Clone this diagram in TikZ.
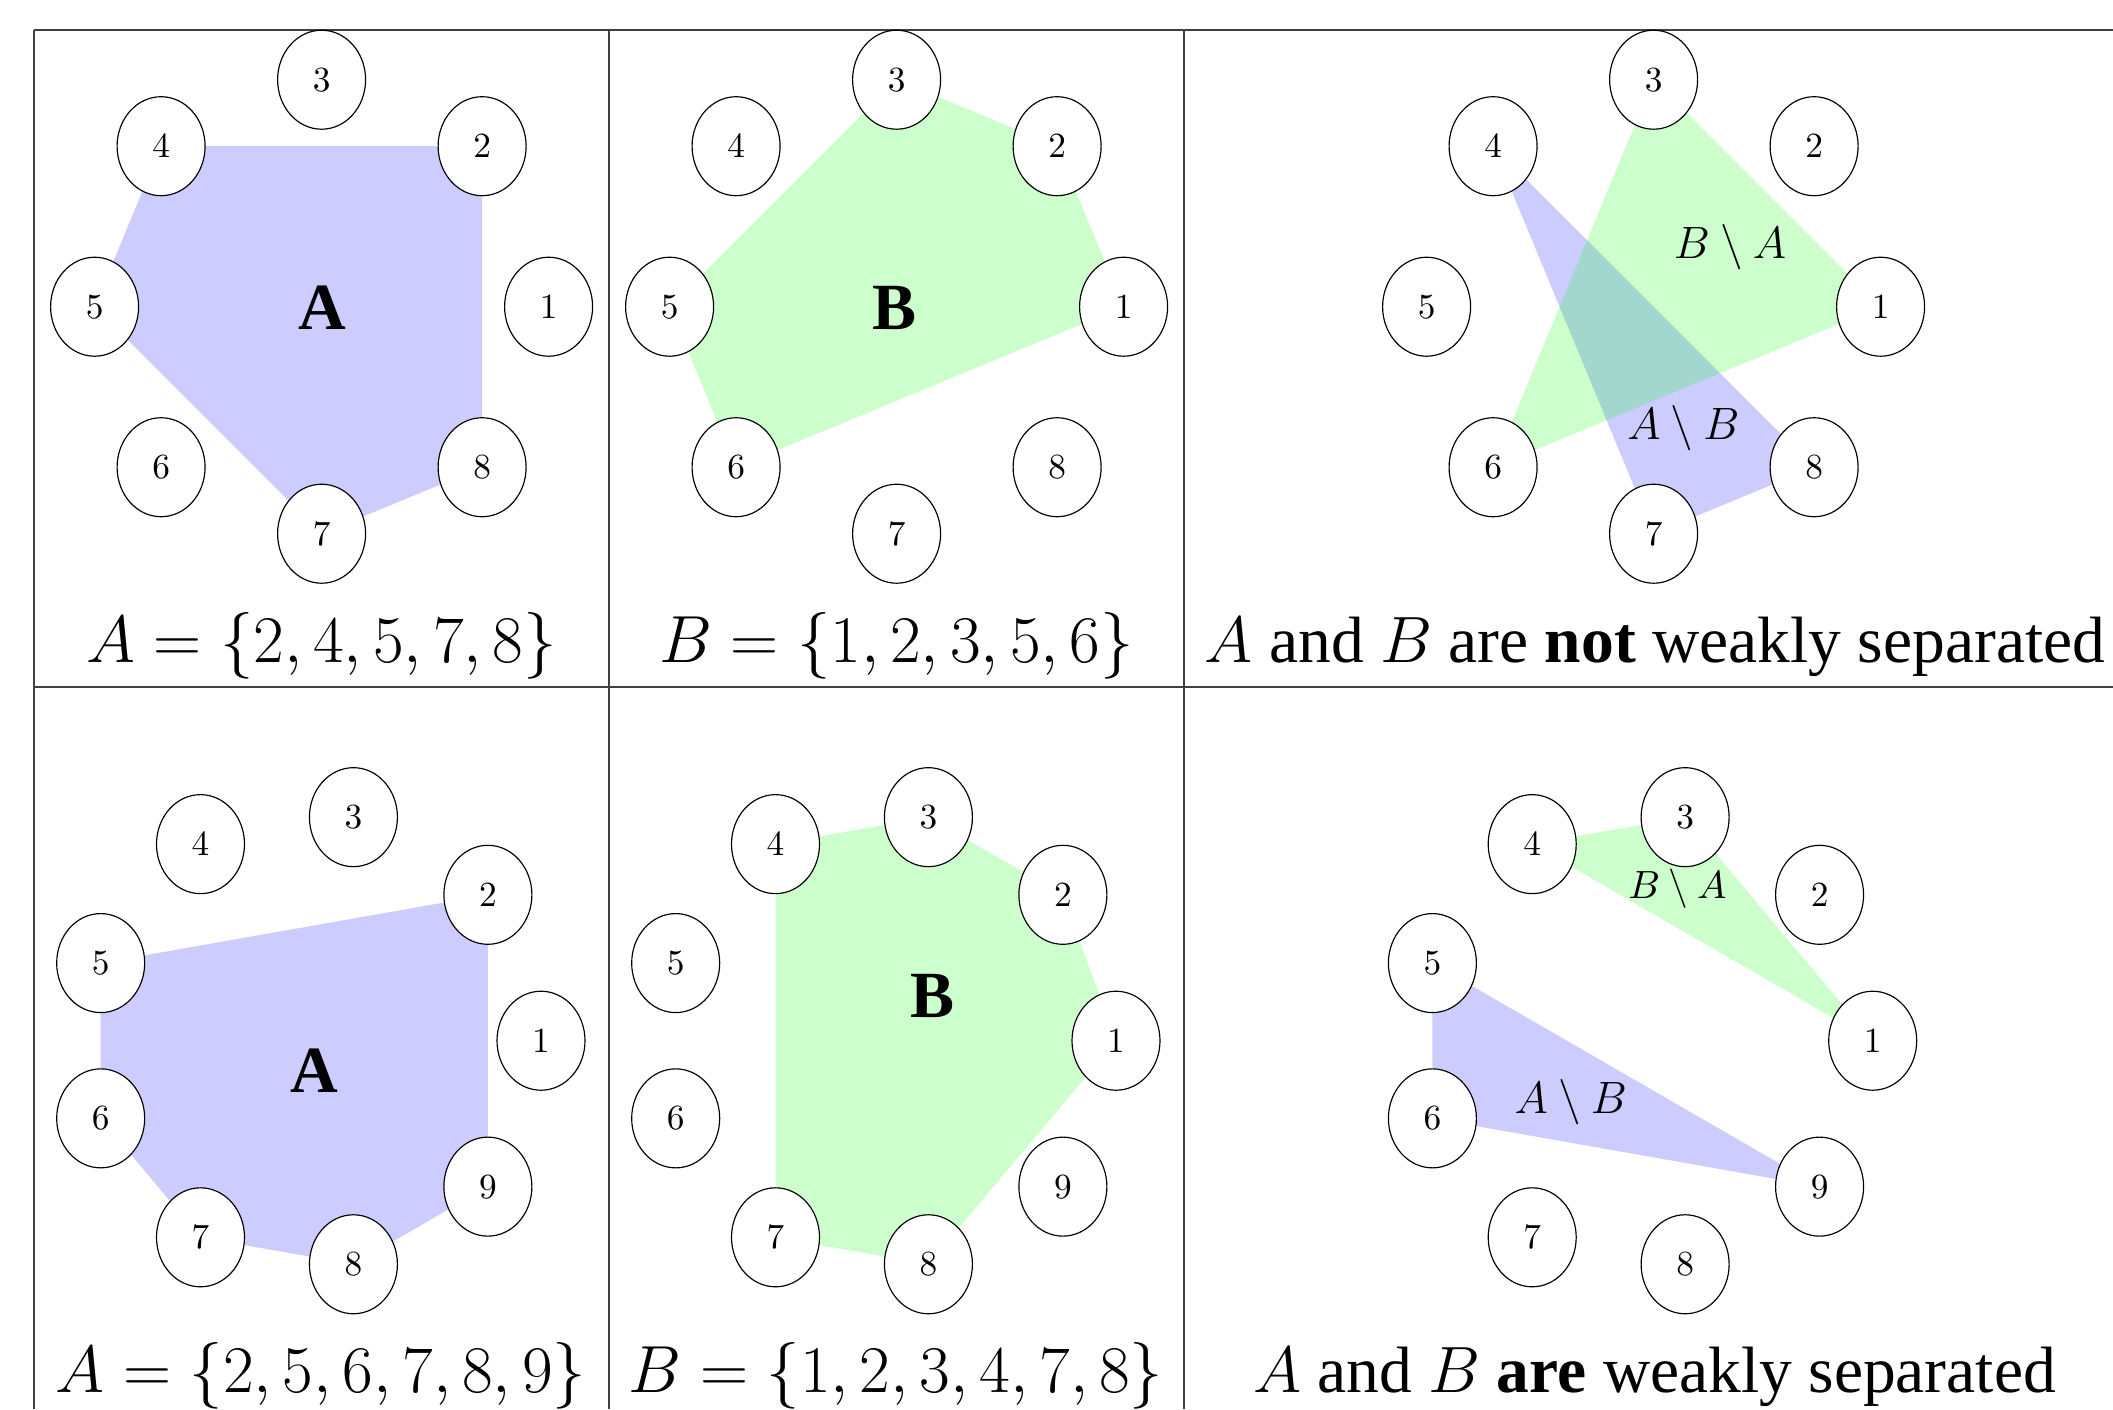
\documentclass[tikz,border=0pt]{standalone}
\usepackage{fix-cm}
\usepackage{fontspec}
\setmainfont{Liberation Serif}
\usetikzlibrary{shapes.geometric,backgrounds}
\tikzset{
  vert/.style={ellipse, draw=black, line width=0.35pt, fill=white,
    minimum width=26.4pt, minimum height=29.7pt, inner sep=0pt,
    font=\fontsize{10.6pt}{12pt}\selectfont},
  afill/.style={fill=blue, fill opacity=0.2},
  bfill/.style={fill=green, fill opacity=0.2},
  tablerule/.style={draw=black!75, line width=0.5pt},
  capt/.style={anchor=base, inner sep=0pt, font=\fontsize{19.65pt}{23pt}\selectfont},
  mathcapt/.style={anchor=base, inner sep=0pt, font=\fontsize{20pt}{23pt}\selectfont},
  biglab/.style={anchor=base, inner sep=0pt, font=\fontsize{19.8pt}{23pt}\selectfont\bfseries},
  setlab/.style={anchor=base, inner sep=0pt, font=\fontsize{13.6pt}{16pt}\selectfont},
  smalllab/.style={anchor=base, inner sep=0pt, font=\fontsize{11.8pt}{14pt}\selectfont},
}
\newcommand\mkring[5]{%
  \foreach \k in {1,...,#4}{%
    \node[vert] (#1\k) at ({#2+227*cos((\k-1)*#5)},{#3-227*sin((\k-1)*#5)}) {$\k$};
  }%
}
\begin{document}
\begin{tikzpicture}[x=0.3pt,y=-0.3pt]
\useasboundingbox (0,0) rectangle (2113,1409);
% table rules
\draw[tablerule] (34,30) -- (2113,30);
\draw[tablerule] (34,687) -- (2113,687);
\draw[tablerule] (34,30) -- (34,1409);
\draw[tablerule] (609,30) -- (609,1409);
\draw[tablerule] (1184,30) -- (1184,1409);

% rings
\mkring{ta}{321.6}{306.7}{8}{45}
\mkring{tb}{896.6}{306.7}{8}{45}
\mkring{tc}{1653.6}{306.7}{8}{45}
\mkring{ba}{314}{1040.7}{9}{40}
\mkring{bb}{889}{1040.7}{9}{40}
\mkring{bc}{1645.7}{1040.7}{9}{40}

\begin{pgfonlayer}{background}
\fill[afill] (ta2.center) -- (ta4.center) -- (ta5.center) -- (ta7.center) -- (ta8.center) -- cycle;
\fill[bfill] (tb1.center) -- (tb2.center) -- (tb3.center) -- (tb5.center) -- (tb6.center) -- cycle;
\fill[afill] (tc4.center) -- (tc7.center) -- (tc8.center) -- cycle;
\fill[bfill] (tc1.center) -- (tc3.center) -- (tc6.center) -- cycle;
\fill[afill] (ba2.center) -- (ba5.center) -- (ba6.center) -- (ba7.center) -- (ba8.center) -- (ba9.center) -- cycle;
\fill[bfill] (bb1.center) -- (bb2.center) -- (bb3.center) -- (bb4.center) -- (bb7.center) -- (bb8.center) -- cycle;
\fill[bfill] (bc1.center) -- (bc3.center) -- (bc4.center) -- cycle;
\fill[afill] (bc5.center) -- (bc6.center) -- (bc9.center) -- cycle;
\end{pgfonlayer}

% labels
\node[biglab] (la1) at (322.2,329) {A};
\node[biglab] (lb1) at (894.7,329) {B};
\node[setlab] (lba1) at (1730,258.3) {$B\setminus A$};
\node[setlab] (lab1) at (1683.3,439.3) {$A\setminus B$};
\node[biglab] (la2) at (314.7,1092.8) {A};
\node[biglab] (lb2) at (933,1017) {B};
\node[smalllab] (lba2) at (1677.5,898.3) {$B\setminus A$};
\node[setlab] (lab2) at (1570.7,1113.3) {$A\setminus B$};

% captions
\node[mathcapt] (c1) at (321.5,662.7) {$A=\{2,4,5,7,8\}$};
\node[mathcapt] (c2) at (896.5,662.7) {$B=\{1,2,3,5,6\}$};
\node[capt] (c3) at (1655,662.7) {$A$ and $B$ are \textbf{not} weakly separated};
\node[mathcapt] (c4) at (321,1392.7) {$A=\{2,5,6,7,8,9\}$};
\node[mathcapt] (c5) at (896,1392.7) {$B=\{1,2,3,4,7,8\}$};
\node[capt] (c6) at (1654.5,1392.7) {$A$ and $B$ \textbf{are} weakly separated};
\end{tikzpicture}
\end{document}
